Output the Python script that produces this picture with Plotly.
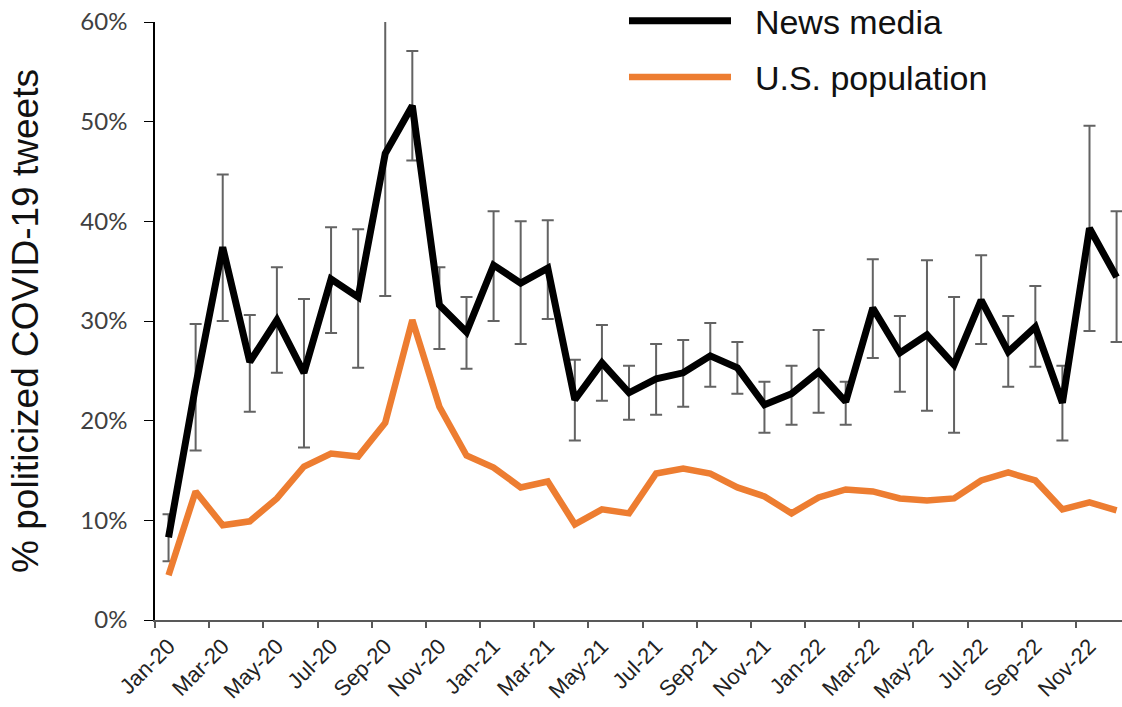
import plotly.graph_objects as go

months = ["Jan-20","Feb-20","Mar-20","Apr-20","May-20","Jun-20","Jul-20","Aug-20","Sep-20","Oct-20","Nov-20","Dec-20",
          "Jan-21","Feb-21","Mar-21","Apr-21","May-21","Jun-21","Jul-21","Aug-21","Sep-21","Oct-21","Nov-21","Dec-21",
          "Jan-22","Feb-22","Mar-22","Apr-22","May-22","Jun-22","Jul-22","Aug-22","Sep-22","Oct-22","Nov-22","Dec-22"]

news_media = [8.3, 23.5, 37.4, 25.9, 30.1, 24.8, 34.2, 32.4, 46.8, 51.6, 31.6, 28.9,
              35.6, 33.8, 35.3, 22.1, 25.8, 22.8, 24.2, 24.8, 26.5, 25.3, 21.6, 22.7,
              24.9, 21.9, 31.3, 26.8, 28.6, 25.6, 32.1, 26.9, 29.4, 21.8, 39.3, 34.4]
news_upper = [10.6, 29.7, 44.7, 30.6, 35.4, 32.2, 39.4, 39.2, 62.0, 57.1, 35.4, 32.4,
              41.0, 40.0, 40.1, 26.1, 29.6, 25.5, 27.7, 28.1, 29.8, 27.9, 23.9, 25.5,
              29.1, 23.9, 36.2, 30.5, 36.1, 32.4, 36.6, 30.5, 33.5, 25.5, 49.6, 41.0]
news_lower = [5.9, 17.0, 30.0, 20.9, 24.8, 17.3, 28.8, 25.3, 32.5, 46.1, 27.2, 25.2,
              30.0, 27.7, 30.2, 18.0, 22.0, 20.1, 20.6, 21.4, 23.4, 22.7, 18.8, 19.6,
              20.8, 19.6, 26.3, 22.9, 21.0, 18.8, 27.7, 23.4, 25.4, 18.0, 29.0, 27.9]
us_population = [4.5, 12.9, 9.5, 9.9, 12.2, 15.4, 16.7, 16.4, 19.8, 30.1, 21.4, 16.5,
                 15.3, 13.3, 13.9, 9.6, 11.1, 10.7, 14.7, 15.2, 14.7, 13.3, 12.4, 10.7,
                 12.3, 13.1, 12.9, 12.2, 12.0, 12.2, 14.0, 14.8, 14.0, 11.1, 11.8, 11.0]

y_media = [v / 100 for v in news_media]
err_plus = [(u - v) / 100 for u, v in zip(news_upper, news_media)]
err_minus = [(v - l) / 100 for l, v in zip(news_lower, news_media)]
y_pop = [v / 100 for v in us_population]

NB = "\u00a0\u00a0"

fig = go.Figure()
fig.add_trace(go.Scatter(
    x=months, y=y_media, mode="lines", name=NB + "News media", legendgroup="a",
    line=dict(color="black", width=7),
    error_y=dict(type="data", symmetric=False, array=err_plus, arrayminus=err_minus,
                 color="#636363", thickness=2, width=6),
))
fig.add_trace(go.Scatter(
    x=months, y=y_pop, mode="lines", name=NB + "U.S. population", legendgroup="b",
    line=dict(color="#ED7D31", width=6.5),
))

arial = "Liberation Sans, Arial, sans-serif"
fig.update_layout(
    width=1122, height=707,
    margin=dict(l=155, r=0, t=22, b=87, autoexpand=False),
    paper_bgcolor="white", plot_bgcolor="white",
    font=dict(family=arial, color="#222222"),
    showlegend=True,
    legend=dict(x=0.485, y=1.05, xanchor="left", yanchor="top",
                font=dict(size=34, color="#111111", family=arial),
                itemwidth=102, bgcolor="rgba(0,0,0,0)", tracegroupgap=9),
    xaxis=dict(
        type="category", range=[-0.5, 35.2],
        tickmode="linear", tick0=0, dtick=2,
        tickson="boundaries",
        ticks="outside", ticklen=6, tickcolor="#595959", tickwidth=1.5,
        tickangle=-45, tickfont=dict(size=22, color="#222222", family=arial),
        ticklabelstandoff=3,
        showline=True, linecolor="#595959", linewidth=1.5,
        showgrid=False, zeroline=False, automargin=False,
    ),
    yaxis=dict(
        range=[0, 0.6], tickmode="linear", tick0=0, dtick=0.1,
        tickformat=".0%",
        ticks="outside", ticklen=9, tickcolor="black", tickwidth=1,
        tickfont=dict(size=24, color="#404040", family="Lato, Open Sans, sans-serif"),
        ticklabelstandoff=12,
        showline=True, linecolor="black", linewidth=1.5,
        showgrid=False, zeroline=False, automargin=False,
        title=dict(text="% politicized COVID-19 tweets" + NB + NB,
                   font=dict(size=37, color="#111111", family=arial), standoff=30),
    ),
)

fig.write_html("out.html")
